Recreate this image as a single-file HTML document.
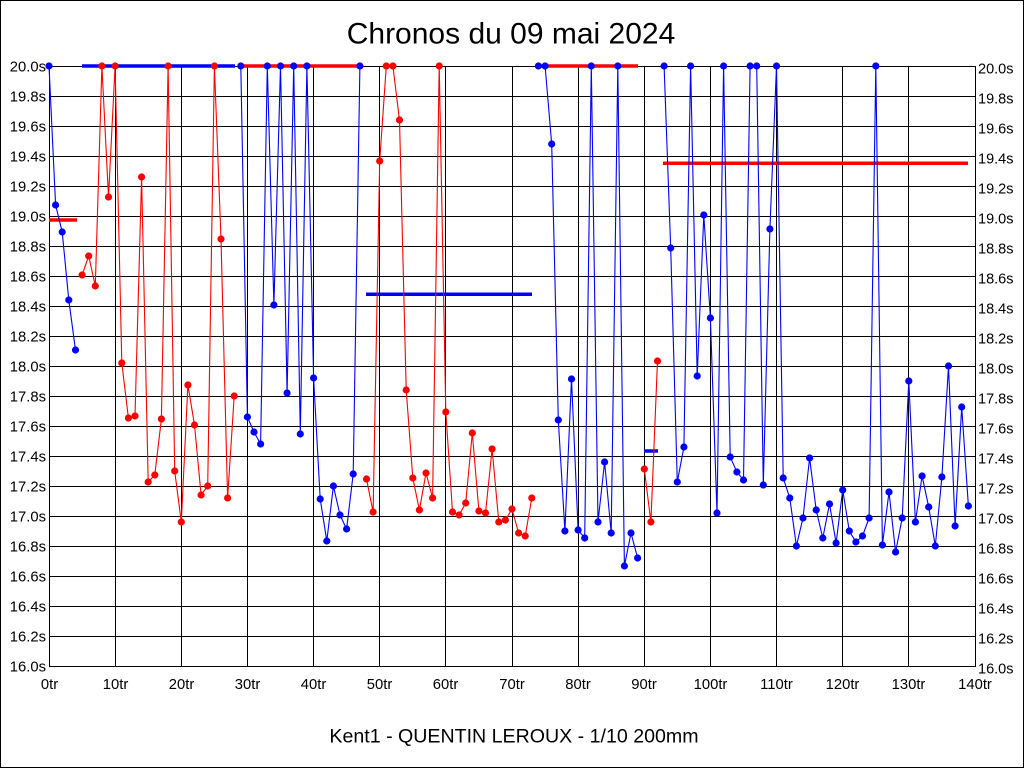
<!DOCTYPE html>
<html><head><meta charset="utf-8"><style>
html,body{margin:0;padding:0;background:#fff}
svg{display:block}
text{font-family:"Liberation Sans",Arial,sans-serif;fill:#000}
</style></head><body>
<svg width="1024" height="768" viewBox="0 0 1024 768" xmlns="http://www.w3.org/2000/svg">
<rect x="0.5" y="0.5" width="1023" height="767" fill="#fff" stroke="#000" stroke-width="1"/>
<text x="511" y="43.5" font-size="30" text-anchor="middle">Chronos du 09 mai 2024</text>
<text x="514" y="742.5" font-size="19.6" text-anchor="middle">Kent1 - QUENTIN LEROUX - 1/10 200mm</text>
<g stroke="#000" stroke-width="1" shape-rendering="crispEdges" fill="none">
<path d="M49 66.5H975M49 96.5H975M49 126.5H975M49 156.5H975M49 186.5H975M49 216.5H975M49 246.5H975M49 276.5H975M49 306.5H975M49 336.5H975M49 366.5H975M49 396.5H975M49 426.5H975M49 456.5H975M49 486.5H975M49 516.5H975M49 546.5H975M49 576.5H975M49 606.5H975M49 636.5H975M49 666.5H975"/>
<path d="M49.5 66V667M115.5 66V667M181.5 66V667M247.5 66V667M313.5 66V667M379.5 66V667M445.5 66V667M512.5 66V667M578.5 66V667M644.5 66V667M710.5 66V667M776.5 66V667M842.5 66V667M908.5 66V667M975.5 66V667"/>
</g>
<g font-size="14.8" text-anchor="end">
<text x="46" y="71.7">20.0s</text><text x="46" y="101.7">19.8s</text><text x="46" y="131.7">19.6s</text><text x="46" y="161.7">19.4s</text><text x="46" y="191.7">19.2s</text><text x="46" y="221.7">19.0s</text><text x="46" y="251.7">18.8s</text><text x="46" y="281.7">18.6s</text><text x="46" y="311.7">18.4s</text><text x="46" y="341.7">18.2s</text><text x="46" y="371.7">18.0s</text><text x="46" y="401.7">17.8s</text><text x="46" y="431.7">17.6s</text><text x="46" y="461.7">17.4s</text><text x="46" y="491.7">17.2s</text><text x="46" y="521.7">17.0s</text><text x="46" y="551.7">16.8s</text><text x="46" y="581.7">16.6s</text><text x="46" y="611.7">16.4s</text><text x="46" y="641.7">16.2s</text><text x="46" y="671.7">16.0s</text>
</g>
<g font-size="14.5" text-anchor="start">
<text x="978" y="73.5">20.0s</text><text x="978" y="103.5">19.8s</text><text x="978" y="133.5">19.6s</text><text x="978" y="163.5">19.4s</text><text x="978" y="193.5">19.2s</text><text x="978" y="223.5">19.0s</text><text x="978" y="253.5">18.8s</text><text x="978" y="283.5">18.6s</text><text x="978" y="313.5">18.4s</text><text x="978" y="343.5">18.2s</text><text x="978" y="373.5">18.0s</text><text x="978" y="403.5">17.8s</text><text x="978" y="433.5">17.6s</text><text x="978" y="463.5">17.4s</text><text x="978" y="493.5">17.2s</text><text x="978" y="523.5">17.0s</text><text x="978" y="553.5">16.8s</text><text x="978" y="583.5">16.6s</text><text x="978" y="613.5">16.4s</text><text x="978" y="643.5">16.2s</text><text x="978" y="673.5">16.0s</text>
</g>
<g font-size="14.8" text-anchor="middle">
<text x="49.5" y="689">0tr</text><text x="115.5" y="689">10tr</text><text x="181.5" y="689">20tr</text><text x="247.5" y="689">30tr</text><text x="313.5" y="689">40tr</text><text x="379.5" y="689">50tr</text><text x="445.5" y="689">60tr</text><text x="512" y="689">70tr</text><text x="578" y="689">80tr</text><text x="644" y="689">90tr</text><text x="710.5" y="689">100tr</text><text x="776.5" y="689">110tr</text><text x="842.5" y="689">120tr</text><text x="908.5" y="689">130tr</text><text x="975" y="689">140tr</text>
</g>
<g stroke-width="3.5" fill="none">
<path d="M49 220H77" stroke="#ff0000"/>
<path d="M82 66H235" stroke="#0000ff"/>
<path d="M241 66H361" stroke="#ff0000"/>
<path d="M366 294.3H532" stroke="#0000ff"/>
<path d="M538 66H638" stroke="#ff0000"/>
<path d="M644 451H658" stroke="#0000ff"/>
<path d="M663 163.3H968" stroke="#ff0000"/>
</g>
<g fill="none" stroke-width="1.1">
<polyline stroke="#0000ff" points="49,66 55.6,205 62.2,232 68.8,300 75.5,350"/>
<polyline stroke="#ff0000" points="82.1,275 88.7,256 95.3,286 101.9,66 108.5,197 115.1,66 121.8,363 128.4,418 135,416 141.6,177 148.2,482 154.8,475 161.4,419 168.1,66 174.7,471 181.3,522 187.9,385 194.5,425 201.1,495 207.7,486 214.4,66 221,239 227.6,498 234.2,396"/>
<polyline stroke="#0000ff" points="240.8,66 247.4,417 254,432 260.6,444 267.3,66 273.9,305 280.5,66 287.1,393 293.7,66 300.3,434 306.9,66 313.6,378 320.2,499 326.8,541 333.4,486 340,515 346.6,529 353.2,474 359.9,66"/>
<polyline stroke="#ff0000" points="366.5,479 373.1,512 379.7,161 386.3,66 392.9,66 399.5,120 406.2,390 412.8,478 419.4,510 426,473 432.6,498 439.2,66 445.8,412 452.5,512 459.1,515 465.7,503 472.3,433 478.9,511 485.5,513 492.1,449 498.8,522 505.4,520 512,509 518.6,533 525.2,536 531.8,498"/>
<polyline stroke="#0000ff" points="538.4,66 545.1,66 551.7,144 558.3,420 564.9,531 571.5,379 578.1,530 584.7,538 591.3,66 598,522 604.6,462 611.2,533 617.8,66 624.4,566 631,533 637.6,558"/>
<polyline stroke="#ff0000" points="644.3,469 650.9,522 657.5,361"/>
<polyline stroke="#0000ff" points="664.1,66 670.7,248 677.3,482 683.9,447 690.6,66 697.2,376 703.8,215 710.4,318 717,513 723.6,66 730.2,457 736.9,472 743.5,480 750.1,66 756.7,66 763.3,485 769.9,229 776.5,66 783.2,478 789.8,498 796.4,546 803,518 809.6,458 816.2,510 822.8,538 829.5,504 836.1,543 842.7,490 849.3,531 855.9,542 862.5,536 869.1,518 875.8,66 882.4,545 889,492 895.6,552 902.2,518 908.8,381 915.4,522 922.1,476 928.7,507 935.3,546 941.9,477 948.5,366 955.1,526 961.7,407 968.4,506"/>
</g>
<g fill="#0000ff">
<circle cx="49" cy="66" r="3.6"/><circle cx="55.6" cy="205" r="3.6"/><circle cx="62.2" cy="232" r="3.6"/><circle cx="68.8" cy="300" r="3.6"/><circle cx="75.5" cy="350" r="3.6"/>
<circle cx="240.8" cy="66" r="3.6"/><circle cx="247.4" cy="417" r="3.6"/><circle cx="254" cy="432" r="3.6"/><circle cx="260.6" cy="444" r="3.6"/><circle cx="267.3" cy="66" r="3.6"/><circle cx="273.9" cy="305" r="3.6"/><circle cx="280.5" cy="66" r="3.6"/><circle cx="287.1" cy="393" r="3.6"/><circle cx="293.7" cy="66" r="3.6"/><circle cx="300.3" cy="434" r="3.6"/><circle cx="306.9" cy="66" r="3.6"/><circle cx="313.6" cy="378" r="3.6"/><circle cx="320.2" cy="499" r="3.6"/><circle cx="326.8" cy="541" r="3.6"/><circle cx="333.4" cy="486" r="3.6"/><circle cx="340" cy="515" r="3.6"/><circle cx="346.6" cy="529" r="3.6"/><circle cx="353.2" cy="474" r="3.6"/><circle cx="359.9" cy="66" r="3.6"/>
<circle cx="538.4" cy="66" r="3.6"/><circle cx="545.1" cy="66" r="3.6"/><circle cx="551.7" cy="144" r="3.6"/><circle cx="558.3" cy="420" r="3.6"/><circle cx="564.9" cy="531" r="3.6"/><circle cx="571.5" cy="379" r="3.6"/><circle cx="578.1" cy="530" r="3.6"/><circle cx="584.7" cy="538" r="3.6"/><circle cx="591.3" cy="66" r="3.6"/><circle cx="598" cy="522" r="3.6"/><circle cx="604.6" cy="462" r="3.6"/><circle cx="611.2" cy="533" r="3.6"/><circle cx="617.8" cy="66" r="3.6"/><circle cx="624.4" cy="566" r="3.6"/><circle cx="631" cy="533" r="3.6"/><circle cx="637.6" cy="558" r="3.6"/>
<circle cx="664.1" cy="66" r="3.6"/><circle cx="670.7" cy="248" r="3.6"/><circle cx="677.3" cy="482" r="3.6"/><circle cx="683.9" cy="447" r="3.6"/><circle cx="690.6" cy="66" r="3.6"/><circle cx="697.2" cy="376" r="3.6"/><circle cx="703.8" cy="215" r="3.6"/><circle cx="710.4" cy="318" r="3.6"/><circle cx="717" cy="513" r="3.6"/><circle cx="723.6" cy="66" r="3.6"/><circle cx="730.2" cy="457" r="3.6"/><circle cx="736.9" cy="472" r="3.6"/><circle cx="743.5" cy="480" r="3.6"/><circle cx="750.1" cy="66" r="3.6"/><circle cx="756.7" cy="66" r="3.6"/><circle cx="763.3" cy="485" r="3.6"/><circle cx="769.9" cy="229" r="3.6"/><circle cx="776.5" cy="66" r="3.6"/><circle cx="783.2" cy="478" r="3.6"/><circle cx="789.8" cy="498" r="3.6"/><circle cx="796.4" cy="546" r="3.6"/><circle cx="803" cy="518" r="3.6"/><circle cx="809.6" cy="458" r="3.6"/><circle cx="816.2" cy="510" r="3.6"/><circle cx="822.8" cy="538" r="3.6"/><circle cx="829.5" cy="504" r="3.6"/><circle cx="836.1" cy="543" r="3.6"/><circle cx="842.7" cy="490" r="3.6"/><circle cx="849.3" cy="531" r="3.6"/><circle cx="855.9" cy="542" r="3.6"/><circle cx="862.5" cy="536" r="3.6"/><circle cx="869.1" cy="518" r="3.6"/><circle cx="875.8" cy="66" r="3.6"/><circle cx="882.4" cy="545" r="3.6"/><circle cx="889" cy="492" r="3.6"/><circle cx="895.6" cy="552" r="3.6"/><circle cx="902.2" cy="518" r="3.6"/><circle cx="908.8" cy="381" r="3.6"/><circle cx="915.4" cy="522" r="3.6"/><circle cx="922.1" cy="476" r="3.6"/><circle cx="928.7" cy="507" r="3.6"/><circle cx="935.3" cy="546" r="3.6"/><circle cx="941.9" cy="477" r="3.6"/><circle cx="948.5" cy="366" r="3.6"/><circle cx="955.1" cy="526" r="3.6"/><circle cx="961.7" cy="407" r="3.6"/><circle cx="968.4" cy="506" r="3.6"/>
</g>
<g fill="#ff0000">
<circle cx="82.1" cy="275" r="3.6"/><circle cx="88.7" cy="256" r="3.6"/><circle cx="95.3" cy="286" r="3.6"/><circle cx="101.9" cy="66" r="3.6"/><circle cx="108.5" cy="197" r="3.6"/><circle cx="115.1" cy="66" r="3.6"/><circle cx="121.8" cy="363" r="3.6"/><circle cx="128.4" cy="418" r="3.6"/><circle cx="135" cy="416" r="3.6"/><circle cx="141.6" cy="177" r="3.6"/><circle cx="148.2" cy="482" r="3.6"/><circle cx="154.8" cy="475" r="3.6"/><circle cx="161.4" cy="419" r="3.6"/><circle cx="168.1" cy="66" r="3.6"/><circle cx="174.7" cy="471" r="3.6"/><circle cx="181.3" cy="522" r="3.6"/><circle cx="187.9" cy="385" r="3.6"/><circle cx="194.5" cy="425" r="3.6"/><circle cx="201.1" cy="495" r="3.6"/><circle cx="207.7" cy="486" r="3.6"/><circle cx="214.4" cy="66" r="3.6"/><circle cx="221" cy="239" r="3.6"/><circle cx="227.6" cy="498" r="3.6"/><circle cx="234.2" cy="396" r="3.6"/>
<circle cx="366.5" cy="479" r="3.6"/><circle cx="373.1" cy="512" r="3.6"/><circle cx="379.7" cy="161" r="3.6"/><circle cx="386.3" cy="66" r="3.6"/><circle cx="392.9" cy="66" r="3.6"/><circle cx="399.5" cy="120" r="3.6"/><circle cx="406.2" cy="390" r="3.6"/><circle cx="412.8" cy="478" r="3.6"/><circle cx="419.4" cy="510" r="3.6"/><circle cx="426" cy="473" r="3.6"/><circle cx="432.6" cy="498" r="3.6"/><circle cx="439.2" cy="66" r="3.6"/><circle cx="445.8" cy="412" r="3.6"/><circle cx="452.5" cy="512" r="3.6"/><circle cx="459.1" cy="515" r="3.6"/><circle cx="465.7" cy="503" r="3.6"/><circle cx="472.3" cy="433" r="3.6"/><circle cx="478.9" cy="511" r="3.6"/><circle cx="485.5" cy="513" r="3.6"/><circle cx="492.1" cy="449" r="3.6"/><circle cx="498.8" cy="522" r="3.6"/><circle cx="505.4" cy="520" r="3.6"/><circle cx="512" cy="509" r="3.6"/><circle cx="518.6" cy="533" r="3.6"/><circle cx="525.2" cy="536" r="3.6"/><circle cx="531.8" cy="498" r="3.6"/>
<circle cx="644.3" cy="469" r="3.6"/><circle cx="650.9" cy="522" r="3.6"/><circle cx="657.5" cy="361" r="3.6"/>
</g>
</svg>
</body></html>
